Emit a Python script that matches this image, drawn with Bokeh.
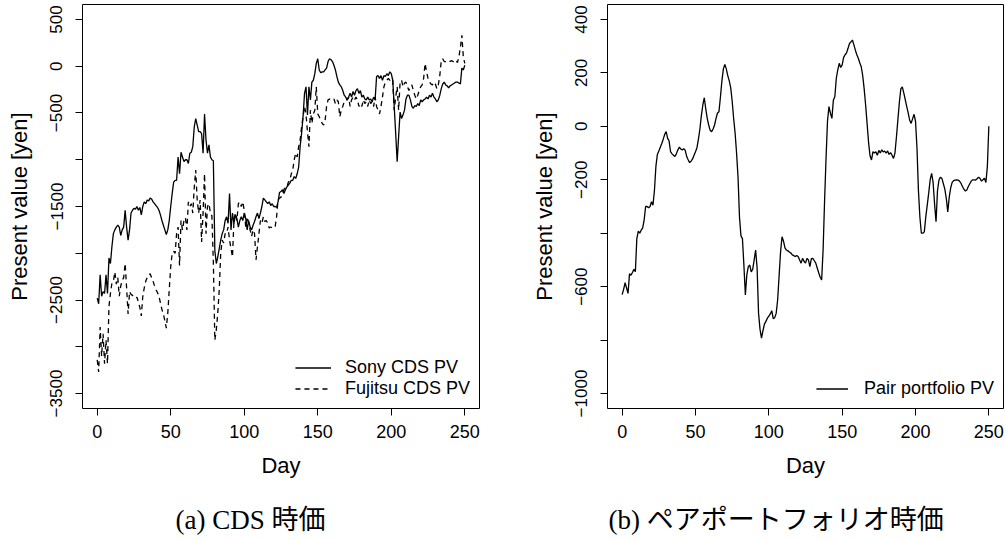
from bokeh.plotting import figure
from bokeh.layouts import row
from bokeh.models import FixedTicker, Range1d, Legend, LegendItem, Title, LinearAxis
from bokeh.embed import file_html
from bokeh.resources import INLINE

days = list(range(251))

sony_pv = [
    -2480, -2540, -2230, -2460, -2410, -2430, -2230, -2430, -2050, -2110,
    -1930, -1790, -1750, -1720, -1700, -1720, -1810, -1750, -1720, -1540,
    -1720, -1860, -1750, -1570, -1540, -1520, -1530, -1500, -1540, -1510,
    -1590, -1500, -1450, -1470, -1430, -1440, -1410, -1420, -1450, -1470,
    -1490, -1510, -1540, -1590, -1650, -1700, -1750, -1800, -1750, -1650,
    -1500, -1360, -1240, -1220, -1220, -970, -1150, -920, -970, -1020,
    -1000, -1000, -1040, -930, -920, -860, -650, -560, -630, -700,
    -700, -720, -930, -510, -790, -930, -840, -970, -1000, -1010,
    -1970, -2110, -2040, -1950, -1860, -1790, -1750, -1650, -1610, -1680,
    -1360, -1750, -1570, -1680, -1590, -1630, -1720, -1650, -1610, -1650,
    -1570, -1630, -1750, -1650, -1720, -1750, -1700, -1660, -1610, -1570,
    -1630, -1570, -1500, -1410, -1430, -1450, -1470, -1450, -1490, -1470,
    -1500, -1500, -1510, -1450, -1350, -1340, -1320, -1360, -1320, -1290,
    -1270, -1250, -1220, -1220, -1180, -1200, -1150, -1080, -860, -720,
    -540, -290, -220, -520, -220, -360, -170, -150, -80, 30,
    80, -40, -70, -60, -60, -40, -20, 50, 80, 70,
    50, 10, -40, -110, -170, -200, -220, -260, -310, -330,
    -360, -330, -290, -330, -270, -310, -260, -240, -290, -260,
    -330, -310, -350, -360, -330, -360, -350, -380, -330, -360,
    -110, -100, -130, -100, -150, -100, -110, -80, -100, -60,
    -80, -150, -430, -720, -1020, -750, -490, -560, -520, -470,
    -350, -310, -310, -360, -430, -450, -420, -430, -400, -420,
    -360, -380, -360, -350, -330, -350, -310, -330, -290, -330,
    -350, -380, -360, -310, -240, -190, -170, -200, -210, -230,
    -210, -200, -190, -180, -170, -170, -180, -190, -20, -40,
    10,
]

fujitsu_pv = [
    -3140, -3270, -2790, -3100, -2860, -3180, -2930, -3180, -2570, -2430,
    -2320, -2300, -2200, -2330, -2260, -2460, -2350, -2290, -2260, -2110,
    -2370, -2650, -2410, -2440, -2450, -2470, -2480, -2470, -2520, -2580,
    -2670, -2460, -2370, -2300, -2260, -2230, -2220, -2260, -2300, -2350,
    -2390, -2420, -2460, -2530, -2600, -2650, -2720, -2800, -2640, -2390,
    -2140, -2000, -1980, -2000, -1790, -1720, -2130, -1650, -1750, -1650,
    -1620, -1750, -1450, -1500, -1470, -1570, -1300, -1110, -1430, -1570,
    -1430, -1880, -1570, -1150, -1790, -1500, -1470, -1570, -1600, -2100,
    -2930, -2820, -2640, -2390, -2000, -1860, -1890, -1790, -1790, -1720,
    -1860, -1950, -2040, -1650, -1570, -1650, -1470, -1450, -1500, -1450,
    -1540, -1720, -1610, -1680, -1750, -1820, -1750, -1790, -2070, -1930,
    -1790, -1650, -1680, -1610, -1660, -1650, -1680, -1730, -1720, -1730,
    -1720, -1720, -1610, -1430, -1410, -1400, -1360, -1320, -1290, -1290,
    -1240, -1220, -1150, -1110, -1000, -930, -970, -860, -790, -650,
    -540, -430, -510, -700, -860, -470, -610, -510, -470, -220,
    -510, -540, -580, -610, -630, -580, -430, -360, -350, -360,
    -360, -350, -400, -360, -380, -540, -470, -430, -380, -360,
    -360, -330, -430, -360, -330, -360, -330, -360, -430, -400,
    -430, -360, -400, -380, -430, -360, -400, -380, -430, -330,
    -430, -470, -510, -430, -330, -220, -170, -150, -130, -150,
    -130, -150, -470, -330, -220, -470, -170, -150, -220, -180,
    -170, -220, -260, -220, -200, -260, -310, -350, -310, -260,
    -220, -200, -130, 30, -60, -130, -170, -190, -200, -170,
    -190, -240, -200, -100, 60, 80, 50, 50, 50, 60,
    50, 60, 50, 40, 60, 40, 100, 200, 330, 100,
    30,
]

pair_pv = [
    -630, -610, -585, -605, -625, -552, -557, -547, -535, -544,
    -420, -392, -400, -388, -380, -350, -300, -300, -305, -300,
    -282, -295, -240, -150, -105, -92, -78, -64, -48, -30,
    -20, -45, -55, -95, -103, -108, -113, -102, -88, -78,
    -85, -88, -84, -90, -113, -125, -136, -130, -122, -108,
    -95, -80, -48, -10, 40, 80, 107, 65, 30, 5,
    -15, -20, -10, 5, 30, 50, 55, 110, 170, 215,
    232, 215, 190, 170, 145, 95, 30, -25, -100, -190,
    -340, -410, -420, -520, -631, -555, -525, -519, -545, -535,
    -500, -463, -530, -700, -760, -793, -765, -740, -730, -718,
    -710, -702, -690, -720, -716, -700, -650, -560, -470, -413,
    -430, -455, -463, -466, -470, -474, -481, -484, -487, -484,
    -487, -500, -512, -494, -505, -512, -494, -500, -525, -495,
    -494, -503, -512, -530, -548, -565, -575, -463, -280, -120,
    20, 74, 49, 30, 98, 111, 180, 211, 236, 220,
    230, 258, 268, 275, 292, 310, 316, 323, 305, 285,
    268, 255, 238, 223, 190, 140, 80, 10, -60, -110,
    -126, -95, -100, -95, -108, -90, -100, -88, -96, -93,
    -100, -92, -105, -98, -108, -120, -100, -40, 25, 90,
    140, 148, 125, 100, 75, 50, 24, 11, 28, 45,
    20, -80, -240, -340, -400, -400, -395, -340, -295, -250,
    -200, -176, -210, -290, -357, -240, -201, -190, -195, -215,
    -235, -270, -320, -265, -230, -210, -203, -201, -200, -201,
    -205, -213, -225, -235, -242, -238, -225, -215, -205, -200,
    -200, -201, -196, -190, -195, -205, -200, -194, -210, -150,
    0,
]

assert len(sony_pv) == 251 and len(fujitsu_pv) == 251 and len(pair_pv) == 251

x_ticks = [0, 50, 100, 150, 200, 250]
left_y_ticks = [-3500, -3000, -2500, -2000, -1500, -1000, -500, 0, 500]
left_y_hidden = [-3000, -2000, -1000]
right_y_ticks = [-1000, -800, -600, -400, -200, 0, 200, 400]
right_y_hidden = [-800, -400]

x_label = "Day"
y_label = "Present value [yen]"
caption_a = "(a) CDS 時価"
caption_b = "(b) ペアポートフォリオ時価"

FONT = "Liberation Sans"
CAP_FONT = "'Liberation Serif', 'Noto Sans CJK JP'"
H = 540


def fmt(v):
    return ("\u2212" + str(-v)) if v < 0 else str(v)


def style(p, yticks, yhidden):
    p.outline_line_color = "black"
    p.outline_line_width = 1
    p.outline_line_alpha = 1
    p.xgrid.visible = False
    p.ygrid.visible = False
    p.background_fill_color = "white"
    p.border_fill_color = "white"
    for ax in (p.xaxis[0], p.yaxis[0]):
        ax.axis_line_color = None
        ax.major_tick_out = 7
        ax.major_tick_in = 0
        ax.major_tick_line_color = "black"
        ax.major_tick_line_width = 1
        ax.minor_tick_line_color = None
        ax.major_label_text_font = FONT
        ax.major_label_text_color = "black"
        ax.axis_label_text_font = FONT
        ax.axis_label_text_font_style = "normal"
        ax.axis_label_text_font_size = "22px"
        ax.axis_label_text_color = "black"
    xa = p.xaxis[0]
    xa.ticker = FixedTicker(ticks=x_ticks)
    xa.major_label_text_font_size = "18px"
    xa.major_label_standoff = 9
    xa.axis_label = x_label
    xa.axis_label_standoff = 12
    ya = p.yaxis[0]
    ya.ticker = FixedTicker(ticks=yticks)
    ya.major_label_overrides = {t: ("" if t in yhidden else fmt(t)) for t in yticks}
    ya.major_label_orientation = "vertical"
    ya.major_label_text_font_size = "17px"
    ya.major_label_standoff = 13
    ya.axis_label = y_label
    ya.axis_label_standoff = 16
    # blank spacer axis between the x axis and the caption: one white tick, no text
    spacer = LinearAxis(ticker=FixedTicker(ticks=[125]), major_tick_out=24, major_tick_in=0,
                        major_tick_line_color="white", minor_tick_line_color=None,
                        axis_line_color=None, major_label_standoff=0,
                        major_label_text_color=None, major_label_overrides={125: ""})
    p.add_layout(spacer, "below")


def add_caption(p, text, offset):
    p.add_layout(Title(text=text, align="left", offset=offset, vertical_align="top",
                       standoff=0, text_font=CAP_FONT, text_font_size="27px",
                       text_font_style="normal", text_color="black"), "below")


# ---- left panel
p1 = figure(width=500, height=H, x_range=Range1d(-10, 260), y_range=Range1d(-3660, 660),
            output_backend="svg", toolbar_location=None,
            min_border_left=82, min_border_right=21, min_border_top=4, min_border_bottom=132)
style(p1, left_y_ticks, left_y_hidden)
r_sony = p1.line(days, sony_pv, line_color="black", line_width=1.3)
r_fuji = p1.line(days, fujitsu_pv, line_color="black", line_width=1.3, line_dash="5 4")
leg1 = Legend(items=[LegendItem(label="Sony CDS PV", renderers=[r_sony]),
                     LegendItem(label="Fujitsu CDS PV", renderers=[r_fuji])],
              location="bottom_right", margin=9, padding=10, spacing=-3,
              glyph_width=36, glyph_height=19, label_height=19, label_standoff=14,
              label_text_font=FONT, label_text_font_size="18px", label_text_color="black",
              border_line_color=None, background_fill_alpha=0)
p1.add_layout(leg1)
add_caption(p1, caption_a, 93)

# ---- right panel
p2 = figure(width=506, height=H, x_range=Range1d(-10, 260), y_range=Range1d(-1056, 456),
            output_backend="svg", toolbar_location=None,
            min_border_left=107, min_border_right=3, min_border_top=4, min_border_bottom=132)
style(p2, right_y_ticks, right_y_hidden)
r_pair = p2.line(days, pair_pv, line_color="black", line_width=1.3)
leg2 = Legend(items=[LegendItem(label="Pair portfolio PV", renderers=[r_pair])],
              location="bottom_right", margin=9, padding=10, spacing=0,
              glyph_width=32, glyph_height=19, label_height=19, label_standoff=16,
              label_text_font=FONT, label_text_font_size="18px", label_text_color="black",
              border_line_color=None, background_fill_alpha=0)
p2.add_layout(leg2)
add_caption(p2, caption_b, 1)

layout = row(p1, p2)
open("out.html", "w").write(file_html(layout, INLINE))
